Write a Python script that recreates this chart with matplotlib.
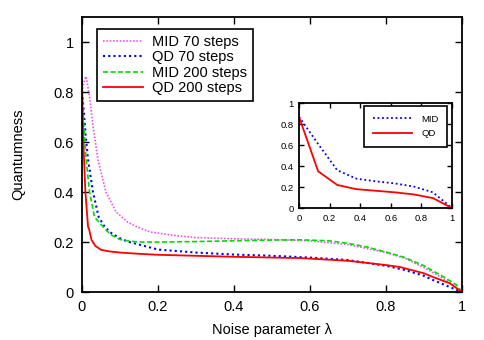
import numpy as np
import matplotlib.pyplot as plt

plt.rcParams['font.family'] = ['Liberation Sans', 'DejaVu Sans']

# main panel: values
x_mid70 = [0, 0.005, 0.011, 0.02, 0.029, 0.042, 0.063, 0.09, 0.12, 0.143, 0.18, 0.2, 0.25, 0.3,
           0.4, 0.5, 0.6, 0.7, 0.8, 0.85, 0.9, 0.95, 0.98, 1.0]
y_mid70 = [0.80, 0.84, 0.862, 0.78, 0.664, 0.53, 0.40, 0.32, 0.28, 0.262, 0.24, 0.236, 0.225, 0.218,
           0.213, 0.21, 0.205, 0.19, 0.158, 0.135, 0.098, 0.055, 0.025, 0.0]

x_qd70 = [0, 0.005, 0.01, 0.016, 0.029, 0.044, 0.06, 0.077, 0.1, 0.12, 0.15, 0.2, 0.3,
          0.4, 0.5, 0.6, 0.7, 0.8, 0.85, 0.9, 0.924, 0.96, 1.0]
y_qd70 = [0.80, 0.72, 0.62, 0.53, 0.40, 0.30, 0.26, 0.236, 0.215, 0.202, 0.19, 0.17, 0.158,
          0.15, 0.145, 0.138, 0.128, 0.105, 0.088, 0.065, 0.048, 0.025, 0.0]

x_mid200 = [0, 0.005, 0.011, 0.02, 0.033, 0.055, 0.075, 0.1, 0.12, 0.15, 0.2, 0.3,
            0.4, 0.5, 0.574, 0.65, 0.7, 0.75, 0.8, 0.85, 0.9, 0.95, 0.986, 1.0]
y_mid200 = [0.80, 0.66, 0.53, 0.40, 0.30, 0.262, 0.23, 0.21, 0.205, 0.2, 0.2, 0.202,
            0.205, 0.208, 0.209, 0.205, 0.195, 0.18, 0.16, 0.138, 0.105, 0.062, 0.028, 0.0]

x_qd200 = [0, 0.003, 0.009, 0.016, 0.019, 0.025, 0.035, 0.05, 0.07, 0.1, 0.15, 0.2, 0.3,
           0.4, 0.5, 0.574, 0.7, 0.8, 0.837, 0.9, 0.924, 0.968, 1.0]
y_qd200 = [0.85, 0.62, 0.40, 0.262, 0.25, 0.209, 0.185, 0.169, 0.163, 0.158, 0.153, 0.149, 0.145,
           0.141, 0.138, 0.136, 0.125, 0.108, 0.10, 0.075, 0.06, 0.035, 0.0]

# inset
x_in = [0, 0.125, 0.25, 0.375, 0.5, 0.625, 0.75, 0.875, 1.0]
y_in_mid = [0.87, 0.61, 0.36, 0.28, 0.255, 0.235, 0.205, 0.15, 0.0]
y_in_qd = [0.87, 0.35, 0.22, 0.18, 0.165, 0.15, 0.13, 0.095, 0.0]

fig = plt.figure(figsize=(4.85, 3.4), dpi=100)
ax = fig.add_axes([0.169, 0.141, 0.7835, 0.809])

ax.plot(x_mid70, y_mid70, color='#ee55ee', ls=(0, (1, 1)), lw=1.2, label='MID 70 steps')
ax.plot(x_qd70, y_qd70, color='#0000ff', ls=(0, (1, 1.5)), lw=1.5, label='QD 70 steps')
ax.plot(x_mid200, y_mid200, color='#00dd00', ls=(0, (3, 1.5)), lw=1.2, label='MID 200 steps')
ax.plot(x_qd200, y_qd200, color='#ff0000', ls='-', lw=1.3, label='QD 200 steps')

ax.set_xlim(0, 1)
ax.set_ylim(0, 1.1)
ax.set_xticks(np.arange(0, 1.01, 0.2))
ax.set_xticklabels(['0', '0.2', '0.4', '0.6', '0.8', '1'])
ax.set_yticks(np.arange(0, 1.01, 0.2))
ax.set_yticklabels(['0', '0.2', '0.4', '0.6', '0.8', '1'])
ax.tick_params(direction='in', top=True, right=True, length=5, width=1, labelsize=10.5, pad=6)
for s in ax.spines.values():
    s.set_linewidth(1.3)
ax.set_xlabel('Noise parameter λ', fontsize=10.5, labelpad=6)
ax.set_ylabel('Quantumness', fontsize=10.5, labelpad=20)

leg = ax.legend(loc='upper left', bbox_to_anchor=(0.039, 0.956), fontsize=10.5, frameon=True,
                fancybox=False, edgecolor='black', framealpha=1, handlelength=2.8,
                borderpad=0.4, labelspacing=0.1, handletextpad=0.6, borderaxespad=0)
leg.get_frame().set_linewidth(1.2)

ins = fig.add_axes([0.6165, 0.388, 0.3155, 0.309])
ins.plot(x_in, y_in_mid, color='#0000ff', ls=(0, (1, 1.5)), lw=1.3, label='MID')
ins.plot(x_in, y_in_qd, color='#ff0000', ls='-', lw=1.3, label='QD')
ins.set_xlim(0, 1)
ins.set_ylim(0, 1)
ins.set_xticks(np.arange(0, 1.01, 0.2))
ins.set_xticklabels(['0', '0.2', '0.4', '0.6', '0.8', '1'])
ins.set_yticks(np.arange(0, 1.01, 0.2))
ins.set_yticklabels(['0', '0.2', '0.4', '0.6', '0.8', '1'])
ins.tick_params(direction='in', top=True, right=True, length=3.5, width=1, labelsize=6.8, pad=4)
for s in ins.spines.values():
    s.set_linewidth(1.3)
leg2 = ins.legend(loc='upper right', bbox_to_anchor=(0.97, 0.97), fontsize=6.8, frameon=True,
                  fancybox=False, edgecolor='black', framealpha=1, handlelength=4.1,
                  borderpad=0.9, labelspacing=0.6, handletextpad=1.05, borderaxespad=0)
leg2.get_frame().set_linewidth(1.2)

fig.savefig('out.png', dpi=100)
